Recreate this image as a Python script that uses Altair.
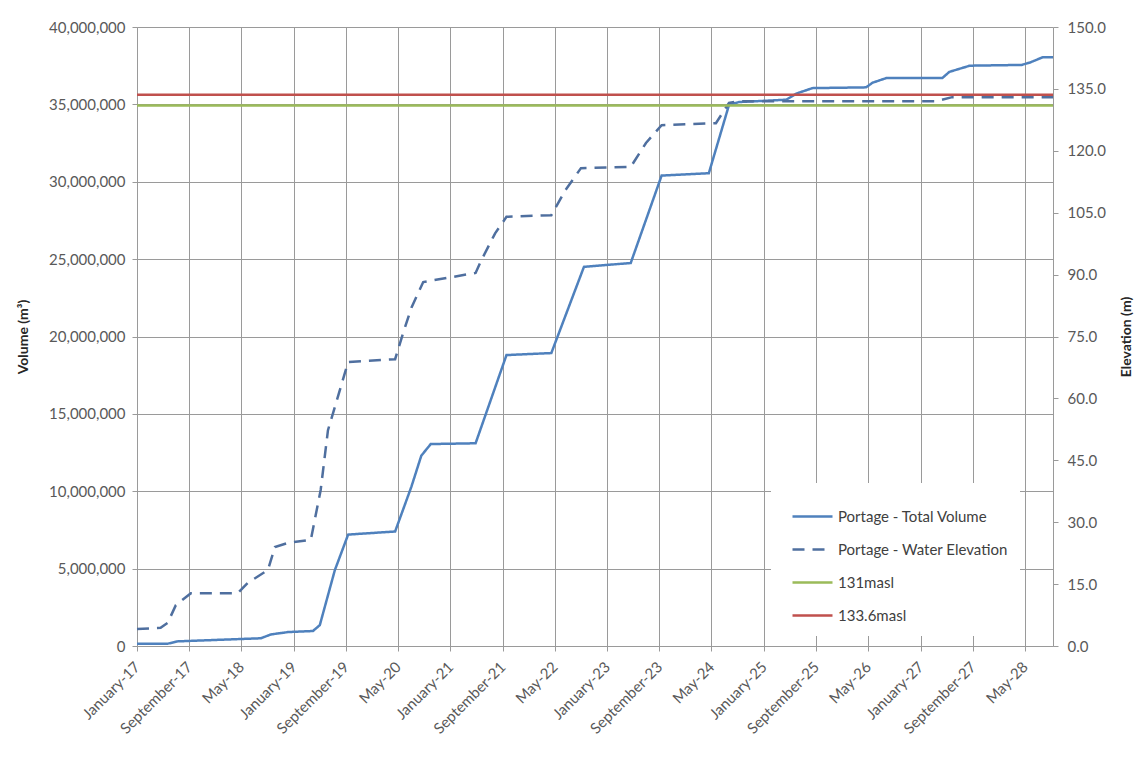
import altair as alt
import pandas as pd

# ---- data ----
vol_dates = ["2017-01-01", "2017-05-24", "2017-07-10", "2018-08-01", "2018-09-18", "2018-12-06",
             "2019-04-01", "2019-05-03", "2019-07-12", "2019-09-12", "2020-04-18", "2020-07-03",
             "2020-08-18", "2020-10-01", "2021-04-28", "2021-09-19", "2022-04-16", "2022-09-15",
             "2023-04-21", "2023-09-12", "2024-04-19", "2024-07-22", "2024-09-06", "2025-04-15",
             "2025-06-01", "2025-08-15", "2026-04-22", "2026-05-22", "2026-07-25", "2027-04-12",
             "2027-05-15", "2027-08-18", "2028-04-16", "2028-05-24", "2028-07-24", "2028-09-09"]
vol_values = [150000, 150000, 300000, 500000, 750000, 900000,
              970000, 1350000, 4900000, 7200000, 7400000, 10300000,
              12300000, 13050000, 13100000, 18800000, 18930000, 24500000,
              24750000, 30400000, 30550000, 34960000, 35150000, 35300000,
              35700000, 36050000, 36100000, 36400000, 36700000, 36700000,
              37100000, 37500000, 37550000, 37700000, 38050000, 38050000]

elev_dates = ["2017-01-01", "2017-04-21", "2017-05-24", "2017-07-01", "2017-09-09", "2018-04-16",
              "2018-06-01", "2018-09-03", "2018-10-06", "2018-12-06", "2019-03-22", "2019-05-07",
              "2019-06-10", "2019-07-12", "2019-09-12", "2020-04-18", "2020-05-25", "2020-07-03",
              "2020-08-27", "2021-04-28", "2021-05-25", "2021-07-28", "2021-09-19", "2022-04-16",
              "2022-06-21", "2022-09-01", "2023-04-21", "2023-07-01", "2023-09-12", "2024-05-22",
              "2024-07-22", "2024-09-06", "2027-03-16", "2027-05-28", "2028-09-09"]
elev_values = [4.1, 4.4, 5.6, 9.9, 12.8, 12.8,
               15.3, 18.4, 24.0, 25.0, 25.7, 37.8,
               52.3, 57.9, 68.8, 69.5, 75.8, 82.0,
               88.2, 90.4, 93.5, 100.0, 104.0, 104.4,
               110.5, 115.8, 116.1, 121.9, 126.2, 126.7,
               131.6, 132.0, 132.0, 133.0, 133.0]

ref_names = ["131masl", "133.6masl"]
ref_levels = [131.0, 133.6]

series_names = ["Portage - Total Volume", "Portage - Water Elevation", "131masl", "133.6masl"]
series_colors = ["#4F81BD", "#4F6F9F", "#9BBB59", "#C0504D"]
series_dashes = [[1, 0], [12, 8], [1, 0], [1, 0]]

tick_months = [(2017, 1), (2017, 9), (2018, 5), (2019, 1), (2019, 9), (2020, 5), (2021, 1),
               (2021, 9), (2022, 5), (2023, 1), (2023, 9), (2024, 5), (2025, 1), (2025, 9),
               (2026, 5), (2027, 1), (2027, 9), (2028, 5)]
x_start = (2017, 1, 1)
x_end = (2028, 9, 9)

vol_df = pd.DataFrame({"date": [d + "T00:00:00" for d in vol_dates], "value": vol_values,
                       "series": series_names[0]})
elev_df = pd.DataFrame({"date": [d + "T00:00:00" for d in elev_dates], "value": elev_values,
                        "series": series_names[1]})
ref_df = pd.DataFrame({"value": ref_levels, "series": ref_names})

FONT = "Lato"
GRID = "#9a9a9a"
LABEL = "#595959"

x_scale = alt.Scale(domain=[alt.DateTime(year=x_start[0], month=x_start[1], date=x_start[2]),
                            alt.DateTime(year=x_end[0], month=x_end[1], date=x_end[2])])
x_axis = alt.Axis(values=[alt.DateTime(year=y, month=m, date=1) for y, m in tick_months],
                  format="%B-%y", labelAngle=315, labelAlign="right", labelBaseline="middle",
                  labelPadding=13, tickSize=5, grid=True, title=None, labelFontSize=15,
                  labelOverlap=False, labelFlush=False)

legend = alt.Legend(title=None, orient="none", legendX=634, legendY=456,
                    fillColor="white", padding=12, symbolType="stroke",
                    symbolSize=1600, symbolStrokeWidth=2.5, labelFontSize=15,
                    labelFont=FONT, labelColor="#404040", rowPadding=3,
                    labelOffset=4, symbolOffset=8, labelLimit=400)
color = alt.Color("series:N", scale=alt.Scale(domain=series_names, range=series_colors),
                  legend=legend)
dash = alt.StrokeDash("series:N", scale=alt.Scale(domain=series_names, range=series_dashes),
                      legend=legend)

vol = alt.Chart(vol_df).mark_line(strokeWidth=2.5).encode(
    x=alt.X("date:T", scale=x_scale, axis=x_axis),
    y=alt.Y("value:Q", scale=alt.Scale(domain=[0, 40000000], nice=False),
            axis=alt.Axis(orient="left", values=list(range(0, 40000001, 5000000)), format=",.0f",
                          title="Volume (m³)", grid=True, tickSize=5, labelPadding=7,
                          titlePadding=18)),
    color=color, strokeDash=dash,
)

elev_y = alt.Y("value:Q", scale=alt.Scale(domain=[0, 150], nice=False),
               axis=alt.Axis(orient="right", values=list(range(0, 151, 15)), format=".1f",
                             title="Elevation (m)", grid=False, tickSize=5, labelPadding=9,
                             titleAngle=270, titlePadding=28))

elev_line = alt.Chart(elev_df).mark_line(strokeWidth=2.5).encode(
    x=alt.X("date:T", scale=x_scale, axis=x_axis),
    y=elev_y, color=color, strokeDash=dash,
)
refs = alt.Chart(ref_df).mark_rule(strokeWidth=2.5).encode(
    y=elev_y, color=color, strokeDash=dash,
)

elev = alt.layer(elev_line, refs)

chart = alt.layer(vol, elev).resolve_scale(y="independent").properties(
    width=916, height=619,
    padding={"left": 129, "top": 19, "right": 86, "bottom": 110},
    autosize=alt.AutoSizeParams(type="none"),
).configure_axis(
    labelFont=FONT, labelFontSize=15, labelColor=LABEL,
    titleFont=FONT, titleFontSize=14, titleFontWeight="bold", titleColor="#262626",
    gridColor=GRID, gridWidth=1, domainColor=GRID, tickColor=GRID,
).configure_view(stroke=None)

chart.save("out.html", embed_options={"renderer": "svg", "actions": False})
